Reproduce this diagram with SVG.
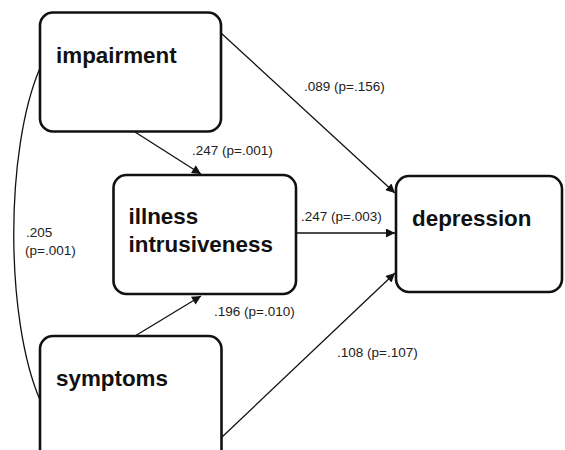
<svg xmlns="http://www.w3.org/2000/svg" width="565" height="450" viewBox="0 0 565 450">
<style>
.box{fill:#fff;stroke:#111;stroke-width:2.6}
.nt{font-family:"Liberation Sans",Arial,sans-serif;font-weight:bold;font-size:22.4px;fill:#111}
.lb{font-family:"Liberation Sans",Arial,sans-serif;font-size:13.5px;fill:#222}
.ln{fill:none;stroke:#111;stroke-width:1.3}
</style>
<defs>
<marker id="ah" viewBox="0 0 10 10" refX="10" refY="5" markerWidth="11" markerHeight="9" markerUnits="userSpaceOnUse" orient="auto">
<path d="M0,0 L10,5 L0,10 Z" fill="#111"/>
</marker>
</defs>
<rect width="565" height="450" fill="#fff"/>
<g id="connectors">
<path class="ln" d="M135,132 L201,174" marker-end="url(#ah)"/>
<path class="ln" d="M221,33 L395,193" marker-end="url(#ah)"/>
<path class="ln" d="M296,233 L395,233" marker-end="url(#ah)"/>
<path class="ln" d="M135,336 L201,296" marker-end="url(#ah)"/>
<path class="ln" d="M221,438 L395,273" marker-end="url(#ah)"/>
<path class="ln" d="M40,68 C5,150 5,318 40,400"/>
<text class="lb" x="304" y="91">.089 (p=.156)</text>
<text class="lb" x="192" y="155">.247 (p=.001)</text>
<text class="lb" x="301" y="221">.247 (p=.003)</text>
<text class="lb" x="26" y="237">.205</text>
<text class="lb" x="25" y="255">(p=.001)</text>
<text class="lb" x="214" y="316">.196 (p=.010)</text>
<text class="lb" x="337" y="357">.108 (p=.107)</text>
</g>
<g id="impairment">
<rect class="box" x="40" y="12.5" width="181" height="119" rx="13"/>
<text class="nt" x="56" y="63">impairment</text>
</g>
<g id="illness">
<rect class="box" x="113.5" y="175" width="182.5" height="119" rx="13"/>
<text class="nt" x="128.5" y="224">illness</text>
<text class="nt" x="128.5" y="251.5">intrusiveness</text>
</g>
<g id="depression">
<rect class="box" x="396" y="176" width="166" height="116" rx="13"/>
<text class="nt" x="412" y="226">depression</text>
</g>
<g id="symptoms">
<rect class="box" x="40" y="336" width="181.5" height="127" rx="13"/>
<text class="nt" x="56" y="386">symptoms</text>
</g>
</svg>
